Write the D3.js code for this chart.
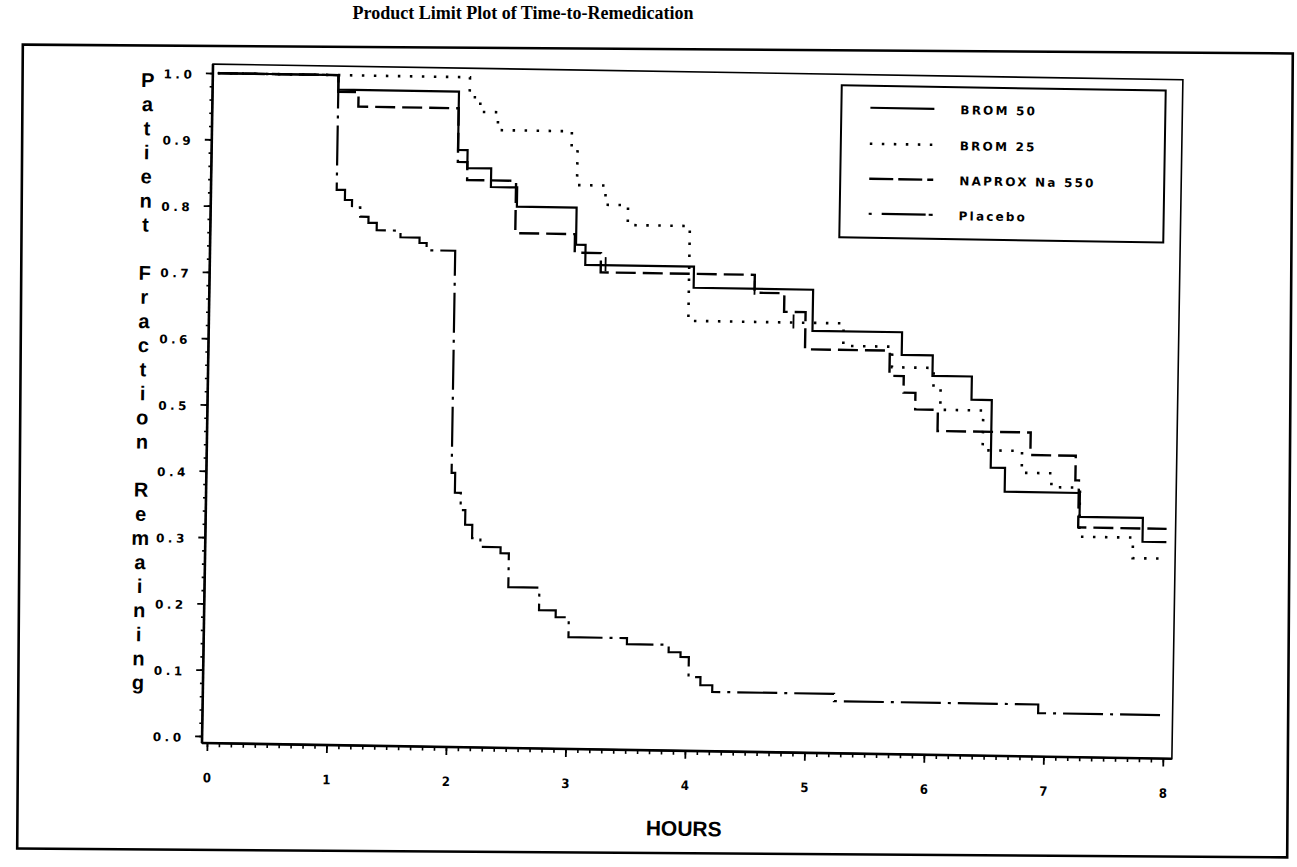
<!DOCTYPE html>
<html><head><meta charset="utf-8">
<script src="https://cdn.jsdelivr.net/npm/d3@7/dist/d3.min.js"></script>
<style>body{margin:0;background:#fff;} svg{display:block;}</style>
</head><body>
<svg id="chart" width="1297" height="867"></svg>
<script>
// ---------- data ----------
const seriesNames = ["BROM 50", "BROM 25", "NAPROX Na 550", "Placebo"];

const brom50Times  = [0, 1.01, 2.02, 2.10, 2.30, 2.52, 3.02, 3.10, 4.01, 5.01, 5.76, 6.02, 6.35, 6.52, 6.64, 7.27, 7.80, 8.0];
const brom50Values = [1.0, 0.978, 0.890, 0.863, 0.835, 0.806, 0.750, 0.720, 0.688, 0.626, 0.592, 0.561, 0.526, 0.424, 0.388, 0.352, 0.316, 0.316];

const brom25Times  = [0, 2.11, 2.20, 2.35, 2.97, 3.02, 3.26, 3.45, 3.97, 5.27, 5.68, 6.03, 6.09, 6.45, 6.78, 7.03, 7.27, 7.72, 8.0];
const brom25Values = [1.0, 0.970, 0.948, 0.921, 0.893, 0.840, 0.811, 0.781, 0.638, 0.604, 0.573, 0.543, 0.510, 0.450, 0.417, 0.396, 0.322, 0.291, 0.291];

const naproxTimes  = [0, 1.01, 1.18, 2.02, 2.10, 2.51, 3.01, 3.23, 4.52, 4.77, 4.95, 5.66, 5.78, 5.88, 6.07, 6.85, 7.23, 7.26, 8.0];
const naproxValues = [1.0, 0.975, 0.953, 0.872, 0.845, 0.766, 0.738, 0.709, 0.682, 0.654, 0.598, 0.560, 0.535, 0.510, 0.478, 0.444, 0.407, 0.336, 0.336];

const placeboTimes  = [0, 1.01, 1.08, 1.14, 1.21, 1.28, 1.35, 1.55, 1.71, 1.77, 2.01, 2.04, 2.09, 2.13, 2.19, 2.26, 2.43, 2.50, 2.76, 2.90, 3.01, 3.50, 3.85, 3.95, 4.02, 4.12, 4.22, 5.24, 6.95, 8.0];
const placeboValues = [1.0, 0.827, 0.812, 0.801, 0.787, 0.778, 0.767, 0.757, 0.749, 0.738, 0.403, 0.373, 0.347, 0.325, 0.305, 0.292, 0.283, 0.232, 0.198, 0.188, 0.158, 0.149, 0.138, 0.131, 0.101, 0.089, 0.079, 0.068, 0.055, 0.055];

// censored observations (tick marks)
const brom50Censored = [3.27, 4.52];
const brom25Censored = [4.85];

const xTickValues = [0, 1, 2, 3, 4, 5, 6, 7, 8];
const yTickValues = [0, 0.1, 0.2, 0.3, 0.4, 0.5, 0.6, 0.7, 0.8, 0.9, 1.0];
const titleText = "Product Limit Plot of Time-to-Remedication";
const xTitle = "HOURS";
const yTitle = "Patient Fraction Remaining";

// ---------- layout ----------
const svg = d3.select("#chart");
const plotL = 202, plotR = 1172, plotT = 64, plotB = 743;

const x = d3.scaleLinear().domain([0, 8]).range([207, 1163]);
const y = d3.scaleLinear().domain([0, 1]).range([736, 73]);

const styles = [
  {dash: null,          width: 2.2},
  {dash: "2.5,9.5",     width: 2.6},
  {dash: "20,7",        width: 2.4},
  {dash: "40,7,3,7",    width: 2.2}
];

// outer frame
svg.append("rect")
  .attr("x", 20).attr("y", 49).attr("width", 1270).attr("height", 804)
  .attr("fill", "none").attr("stroke", "#000").attr("stroke-width", 2.6)
  .attr("transform", "rotate(0.4,654,451)");

// title
svg.append("text")
  .attr("x", 523).attr("y", 19)
  .attr("text-anchor", "middle")
  .attr("font-family", "'Liberation Serif','Times New Roman',serif")
  .attr("font-weight", "bold").attr("font-size", 18)
  .text(titleText);

const g = svg.append("g").attr("transform", "rotate(0.93,202,743)");

// plot box (top/right)
g.append("rect")
  .attr("x", plotL).attr("y", plotT).attr("width", plotR - plotL).attr("height", plotB - plotT)
  .attr("fill", "none").attr("stroke", "#000").attr("stroke-width", 1.6);

// y axis minor
g.append("g").attr("transform", `translate(${plotL},0)`)
  .call(d3.axisLeft(y).tickValues(d3.range(0, 51).map(i => i * 0.02)).tickSize(3).tickFormat(""))
  .call(a => a.select(".domain").remove())
  .selectAll("line").attr("stroke-width", 1.6);
// y axis major
const ya = g.append("g").attr("transform", `translate(${plotL},0)`)
  .call(d3.axisLeft(y).tickValues(yTickValues).tickSize(7).tickFormat(d3.format(".1f")).tickPadding(14));
ya.select(".domain").attr("d", `M0,${plotT}V${plotB}`).attr("stroke-width", 2.6);
ya.selectAll("line").attr("stroke-width", 1.8);
ya.selectAll("text")
  .attr("font-family", "'DejaVu Sans',sans-serif").attr("font-weight", "bold")
  .attr("font-size", 12).attr("letter-spacing", "3.5px").attr("dy", "0.45em").attr("dx", 3.5);

// x axis minor
g.append("g").attr("transform", `translate(0,${plotB})`)
  .call(d3.axisBottom(x).tickValues(d3.range(0, 81).map(i => i * 0.1)).tickSize(4).tickFormat(""))
  .call(a => a.select(".domain").remove())
  .selectAll("line").attr("stroke-width", 1.6);
// x axis major
const xa = g.append("g").attr("transform", `translate(0,${plotB})`)
  .call(d3.axisBottom(x).tickValues(xTickValues).tickSize(8).tickFormat(d3.format("d")).tickPadding(22));
xa.select(".domain").attr("d", `M${plotL},0H${plotR}`).attr("stroke-width", 2.6);
xa.selectAll("line").attr("stroke-width", 1.8);
xa.selectAll("text")
  .attr("font-family", "'DejaVu Sans Condensed','DejaVu Sans',sans-serif").attr("font-weight", "bold")
  .attr("font-size", 13);

// x title
g.append("text")
  .attr("x", (x(0) + x(8)) / 2).attr("y", 828)
  .attr("text-anchor", "middle")
  .attr("font-family", "'Liberation Sans',Arial,sans-serif").attr("font-weight", "bold")
  .attr("font-size", 21)
  .text(xTitle);

// y title (stacked letters)
const yChars = yTitle.split("");
const yt = g.append("text")
  .attr("text-anchor", "middle")
  .attr("font-family", "'Liberation Sans',Arial,sans-serif").attr("font-weight", "bold")
  .attr("font-size", 20);
yt.selectAll("tspan").data(yChars).join("tspan")
  .attr("x", 137).attr("y", (d, i) => 88 + i * 24.1)
  .text(d => d);

// curves
const series = [
  {t: brom50Times, v: brom50Values},
  {t: brom25Times, v: brom25Values},
  {t: naproxTimes, v: naproxValues},
  {t: placeboTimes, v: placeboValues}
];
const line = d3.line().x(d => x(d[0])).y(d => y(d[1])).curve(d3.curveStepAfter);

const drawOrder = [3, 1, 2, 0];
drawOrder.forEach(i => {
  const s = series[i];
  const pts = s.t.map((t, k) => [t, s.v[k]]);
  g.append("path")
    .attr("d", line(pts))
    .attr("fill", "none").attr("stroke", "#000")
    .attr("stroke-width", styles[i].width)
    .attr("stroke-dasharray", styles[i].dash);
});

// censor ticks
function stepValue(times, values, t) {
  let v = values[0];
  for (let k = 0; k < times.length; k++) if (times[k] <= t) v = values[k];
  return v;
}
[[brom50Censored, brom50Times, brom50Values], [brom25Censored, brom25Times, brom25Values]].forEach(([cs, ts, vs]) => {
  g.selectAll(null).data(cs).join("line")
    .attr("x1", d => x(d)).attr("x2", d => x(d))
    .attr("y1", d => y(stepValue(ts, vs, d)) - 8).attr("y2", d => y(stepValue(ts, vs, d)) + 6)
    .attr("stroke", "#000").attr("stroke-width", 1.8);
});

// legend
const leg = g.append("g");
leg.append("rect")
  .attr("x", 831).attr("y", 75).attr("width", 324).attr("height", 152)
  .attr("fill", "#fff").attr("stroke", "#000").attr("stroke-width", 2);
const rowY = [97, 133, 168, 203];
seriesNames.forEach((name, i) => {
  leg.append("line")
    .attr("x1", 860).attr("x2", 924).attr("y1", rowY[i]).attr("y2", rowY[i])
    .attr("stroke", "#000").attr("stroke-width", styles[i].width)
    .attr("stroke-dasharray", i === 3 ? "3,10,44" : (i === 2 ? "24,5" : styles[i].dash));
  leg.append("text")
    .attr("x", 950).attr("y", rowY[i] + 5)
    .attr("font-family", "'DejaVu Sans',sans-serif").attr("font-weight", "bold")
    .attr("font-size", 12).attr("letter-spacing", "2.2px")
    .text(name);
});
</script>
</body></html>
